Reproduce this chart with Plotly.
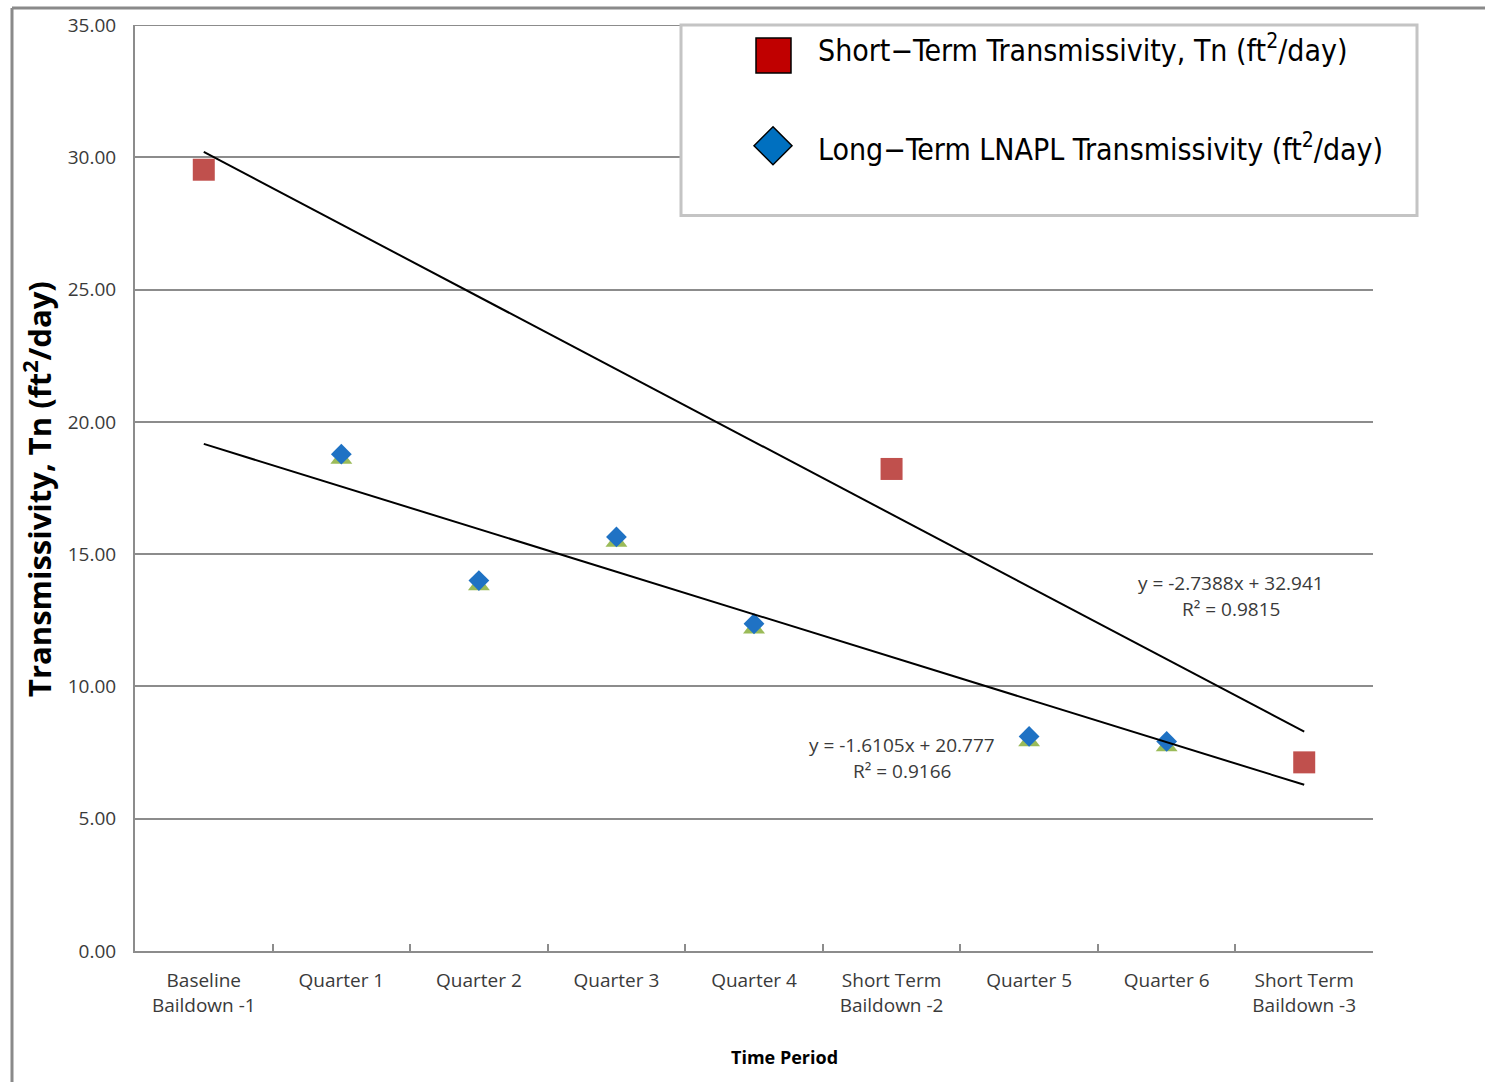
import plotly.graph_objects as go

# Sampling periods along the x axis
categories = [
    "Baseline<br>Baildown -1", "Quarter 1", "Quarter 2", "Quarter 3", "Quarter 4",
    "Short Term<br>Baildown -2", "Quarter 5", "Quarter 6", "Short Term<br>Baildown -3",
]

# Transmissivity values (ft2/day); None where a series has no measurement
short_term = [29.53, None, None, None, None, 18.22, None, None, 7.13]
long_term = [None, 18.78, 14.00, 15.65, 12.37, None, 8.11, 7.92, None]

# Linear trendlines: slope, intercept, R^2 (x = period number 1..9)
short_fit = (-2.7388, 32.941, 0.9815)
long_fit = (-1.6105, 20.777, 0.9166)

y_ticks = [0, 5, 10, 15, 20, 25, 30, 35]

# Plot area in pixels
W, H = 1485, 1082
L, R, T, B = 135, 112, 23, 131
PW, PH = W - L - R, H - T - B


def px(x):
    return (x - L) / PW


def py(y):
    return (H - B - y) / PH


def trend(fit):
    m, b, _ = fit
    return [m * (i + 1) + b for i in range(len(categories))]


GRID = "#8c8c8c"
TXT = "#3a3a3a"
TICK_FONT = dict(family="Open Sans", size=19, color=TXT)

fig = go.Figure()

# invisible carrier so the base value axis (grid + labels) is rendered
fig.add_trace(go.Scatter(
    x=categories, y=short_term, mode="markers", showlegend=False,
    marker=dict(size=1, opacity=0), hoverinfo="skip",
))
# green under-marker that peeks out below each diamond
fig.add_trace(go.Scatter(
    x=categories, y=long_term, mode="markers", yaxis="y2", showlegend=False,
    marker=dict(symbol="triangle-up", size=19, color="#9BBB59", line=dict(width=0)),
    hoverinfo="skip",
))
fig.add_trace(go.Scatter(
    x=categories, y=long_term, mode="markers", yaxis="y3", showlegend=False,
    marker=dict(symbol="diamond", size=16, color="#1F72C4", line=dict(width=0)),
))
fig.add_trace(go.Scatter(
    x=categories, y=short_term, mode="markers", yaxis="y3", showlegend=False,
    marker=dict(symbol="square", size=22, color="#C0504D", line=dict(width=0)),
))
fig.add_trace(go.Scatter(
    x=categories, y=trend(short_fit), mode="lines", yaxis="y3", showlegend=False,
    line=dict(color="black", width=2),
))
fig.add_trace(go.Scatter(
    x=categories, y=trend(long_fit), mode="lines", yaxis="y3", showlegend=False,
    line=dict(color="black", width=2),
))

shapes = [
    # top gridline at the upper end of the value axis
    dict(type="line", xref="paper", yref="y", x0=0, x1=1, y0=y_ticks[-1], y1=y_ticks[-1],
         line=dict(color=GRID, width=2), layer="below"),
    # outer frame
    dict(type="line", xref="paper", yref="paper", x0=px(12), x1=px(W + 5), y0=py(6), y1=py(6),
         line=dict(color="#8a8a8a", width=3), layer="above"),
    dict(type="line", xref="paper", yref="paper", x0=px(12), x1=px(12), y0=py(6), y1=py(H + 5),
         line=dict(color="#8a8a8a", width=3), layer="above"),
    # legend box
    dict(type="rect", xref="paper", yref="paper", x0=px(681), x1=px(1417), y0=py(214), y1=py(23),
         fillcolor="white", line=dict(color="#C4C4C4", width=3), layer="above"),
    # legend swatches
    dict(type="rect", xref="paper", yref="paper", x0=px(756), x1=px(791), y0=py(71), y1=py(36),
         fillcolor="#C00000", line=dict(color="black", width=1.5), layer="above"),
    dict(type="path", xref="paper", yref="paper",
         path=(f"M {px(754)},{py(144)} L {px(773)},{py(125)} "
               f"L {px(792)},{py(144)} L {px(773)},{py(163)} Z"),
         fillcolor="#0070C0", line=dict(color="black", width=1.5), layer="above"),
]

LEG_FONT = dict(family="DejaVu Sans Condensed", size=30, color="black")
EQ_FONT = dict(family="Open Sans", size=19, color=TXT)

annotations = [
    dict(text="Short\u2212Term Transmissivity, Tn (ft<sup>2</sup>/day)", x=px(816), y=py(47),
         xanchor="left", yanchor="middle", font=LEG_FONT),
    dict(text="Long\u2212Term LNAPL Transmissivity (ft<sup>2</sup>/day)", x=px(816), y=py(146),
         xanchor="left", yanchor="middle", font=LEG_FONT),
    dict(text=f"y = {short_fit[0]}x + {short_fit[1]}", x=px(1231), y=py(582),
         xanchor="center", yanchor="middle", font=EQ_FONT),
    dict(text=f"R\u00b2 = {short_fit[2]}", x=px(1231), y=py(608),
         xanchor="center", yanchor="middle", font=EQ_FONT),
    dict(text=f"y = {long_fit[0]}x + {long_fit[1]}", x=px(902), y=py(745),
         xanchor="center", yanchor="middle", font=EQ_FONT),
    dict(text=f"R\u00b2 = {long_fit[2]}", x=px(902), y=py(771),
         xanchor="center", yanchor="middle", font=EQ_FONT),
    dict(text="<b>Transmissivity, Tn (ft<sup>2</sup>/day)</b>", x=px(38), y=py(488),
         xanchor="center", yanchor="middle", textangle=-90,
         font=dict(family="Open Sans", size=31, color="black")),
    dict(text="<b>Time Period</b>", x=px(784), y=py(1057), xanchor="center", yanchor="middle",
         font=dict(family="Open Sans", size=18, color="black")),
]
for a in annotations:
    a.update(xref="paper", yref="paper", showarrow=False)

shift = 5 / PH * 35  # green under-marker sits a few pixels lower

fig.update_layout(
    width=W, height=H,
    margin=dict(l=L, r=R, t=T, b=B),
    paper_bgcolor="white", plot_bgcolor="white",
    showlegend=False,
    xaxis=dict(
        type="category", categoryorder="array", categoryarray=categories,
        range=[-0.5, len(categories) - 0.5],
        tickson="boundaries", ticks="inside", ticklen=7, tickwidth=2, tickcolor=GRID,
        showline=True, linecolor=GRID, linewidth=2, showgrid=False, zeroline=False,
        tickfont=TICK_FONT, ticklabelstandoff=11,
    ),
    yaxis=dict(
        range=[0, 35], tickvals=y_ticks, ticktext=[f"{v:.2f}" for v in y_ticks],
        showgrid=True, gridcolor=GRID, gridwidth=2, zeroline=False,
        showline=True, linecolor=GRID, linewidth=2, ticks="",
        tickfont=TICK_FONT, ticklabelstandoff=13,
    ),
    yaxis2=dict(range=[shift, 35 + shift], overlaying="y", visible=False),
    yaxis3=dict(range=[0, 35], overlaying="y", visible=False),
    shapes=shapes,
    annotations=annotations,
)

fig.write_html("out.html")
